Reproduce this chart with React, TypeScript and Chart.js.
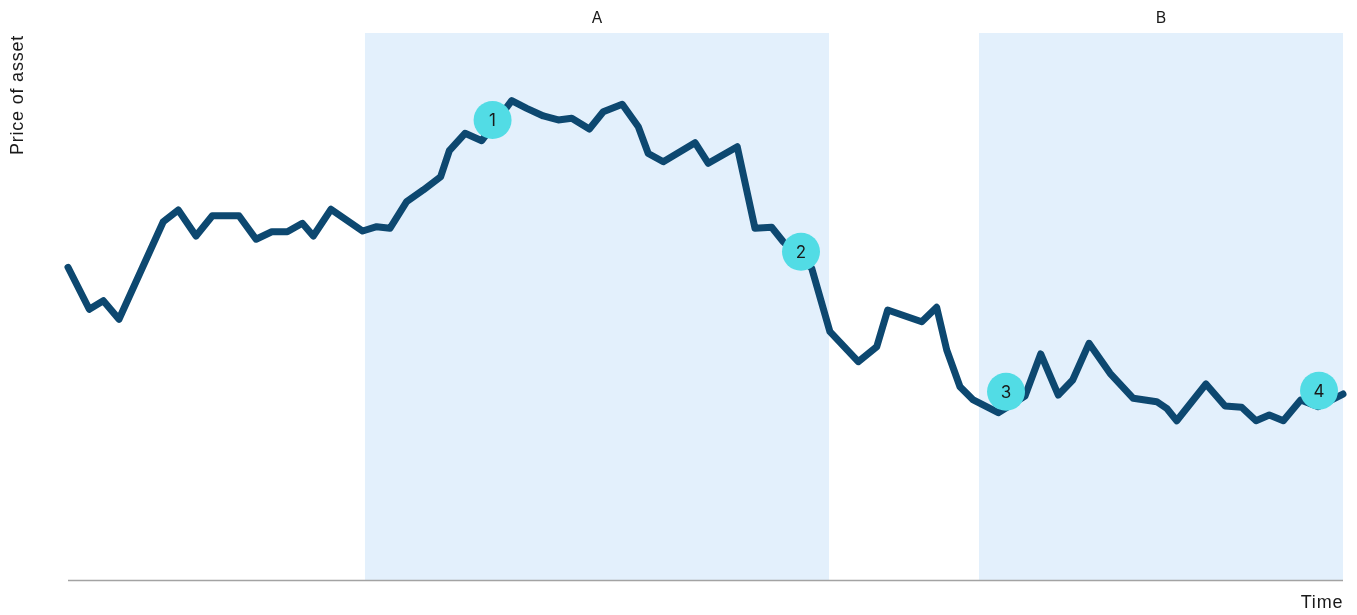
import React, { useEffect, useRef } from "react";
import { Chart, registerables } from "chart.js";

Chart.register(...registerables);

// Time (0–100) and price (0–100)
const timeValues = [
  0, 1.67, 2.77, 4.0, 7.47, 8.65, 10.04, 11.32, 13.41, 14.75, 15.98, 17.2, 18.38, 19.24, 20.63,
  23.11, 24.21, 25.25, 26.56, 27.87, 29.23, 29.91, 31.14, 32.45, 34.8, 35.98, 37.28, 38.45,
  39.51, 40.89, 41.98, 43.47, 44.73, 45.51, 46.69, 49.18, 50.22, 52.49, 53.88, 55.19, 56.1,
  58.33, 59.76, 61.98, 63.43, 64.29, 66.96, 68.13, 68.92, 69.96, 71.0, 72.96, 75.06, 76.29,
  77.67, 78.8, 80.08, 81.73, 83.55, 85.39, 86.17, 86.96, 89.25, 90.75, 92.05, 93.18, 94.22,
  95.32, 96.68, 98.06, 100,
];
const priceValues = [
  57.17, 49.49, 51.06, 47.66, 65.5, 67.64, 62.89, 66.6, 66.6, 62.29, 63.67, 63.67, 65.21,
  62.89, 67.77, 63.8, 64.59, 64.3, 69.16, 71.3, 73.73, 78.48, 81.66, 80.31, 87.62, 86.23,
  84.83, 84.1, 84.4, 82.45, 85.61, 86.97, 82.87, 77.97, 76.47, 79.95, 76.18, 79.21, 64.3,
  64.48, 61.85, 56.98, 45.39, 39.91, 42.65, 49.36, 47.22, 49.85, 42.05, 35.34, 32.91, 30.59,
  33.64, 41.32, 33.82, 36.56, 43.27, 37.79, 33.22, 32.6, 31.39, 29.12, 35.83, 31.81, 31.57,
  29.12, 30.16, 29.12, 32.91, 31.68, 34.0,
];

const markerLabels = ["1", "2", "3", "4"];
const markerTimes = [33.3, 57.49, 73.57, 98.12];
const markerPrices = [84.1, 60.02, 34.42, 34.61];

const regionLabels = ["A", "B"];
const regionStarts = [23.29, 71.45];
const regionEnds = [59.69, 100];

const xAxisTitle = "Time";
const yAxisTitle = "Price of asset";

const LINE_COLOR = "#0D4870";
const MARKER_COLOR = "#52DCE5";
const REGION_COLOR = "#E3F0FC";

const overlayPlugin = {
  id: "overlay",
  beforeDatasetsDraw(chart: any) {
    const { ctx, chartArea, scales } = chart;
    const x = scales.x;
    ctx.save();
    ctx.fillStyle = REGION_COLOR;
    regionLabels.forEach((lab, i) => {
      const x0 = x.getPixelForValue(regionStarts[i]);
      const x1 = x.getPixelForValue(regionEnds[i]);
      ctx.fillRect(x0, chartArea.top, x1 - x0, chartArea.bottom - chartArea.top);
      ctx.fillStyle = "#1a1a1a";
      ctx.font = "16px Inter, 'Liberation Sans', sans-serif";
      ctx.textAlign = "center";
      ctx.textBaseline = "middle";
      ctx.fillText(lab, (x0 + x1) / 2, 18);
      ctx.fillStyle = REGION_COLOR;
    });
    // x axis line
    ctx.strokeStyle = "#A3A3A3";
    ctx.lineWidth = 1.5;
    ctx.beginPath();
    ctx.moveTo(chartArea.left, chartArea.bottom + 0.5);
    ctx.lineTo(chartArea.right, chartArea.bottom + 0.5);
    ctx.stroke();
    // axis titles
    ctx.fillStyle = "#1a1a1a";
    ctx.font = "18px 'Liberation Sans', Arial, sans-serif";
    (ctx as any).letterSpacing = "0.8px";
    ctx.textAlign = "center";
    ctx.textBaseline = "middle";
    ctx.fillText(xAxisTitle, 1322, 603);
    ctx.translate(18, 95);
    ctx.rotate(-Math.PI / 2);
    ctx.fillText(yAxisTitle, 0, 0);
    ctx.restore();
  },
  afterDatasetsDraw(chart: any) {
    const { ctx, scales } = chart;
    ctx.save();
    ctx.fillStyle = "#1a1a1a";
    ctx.font = "17px Inter, 'Liberation Sans', sans-serif";
    ctx.textAlign = "center";
    ctx.textBaseline = "middle";
    markerLabels.forEach((lab, i) => {
      const px = scales.x.getPixelForValue(markerTimes[i]);
      const py = scales.y.getPixelForValue(markerPrices[i]);
      ctx.fillText(lab, px, py + 1);
    });
    ctx.restore();
  },
};

export default function App() {
  const ref = useRef<HTMLCanvasElement>(null);
  useEffect(() => {
    if (!ref.current) return;
    const chart = new Chart(ref.current, {
      type: "line",
      data: {
        datasets: [
          {
            type: "scatter",
            data: markerTimes.map((t, i) => ({ x: t, y: markerPrices[i] })),
            backgroundColor: MARKER_COLOR,
            borderWidth: 0,
            pointRadius: 19,
            pointHoverRadius: 19,
            clip: false,
            order: 0,
          } as any,
          {
            data: timeValues.map((t, i) => ({ x: t, y: priceValues[i] })),
            borderColor: LINE_COLOR,
            borderWidth: 7,
            borderCapStyle: "round",
            borderJoinStyle: "round",
            pointRadius: 0,
            fill: false,
            tension: 0,
            clip: false,
            order: 1,
          },
        ],
      },
      options: {
        animation: false,
        responsive: false,
        maintainAspectRatio: false,
        events: [],
        layout: { autoPadding: false, padding: { left: 68, right: 14, top: 33, bottom: 35 } },
        plugins: { legend: { display: false }, tooltip: { enabled: false } },
        scales: {
          x: { type: "linear", min: 0, max: 100, display: false },
          y: { type: "linear", min: 0, max: 100, display: false },
        },
      },
      plugins: [overlayPlugin],
    });
    return () => chart.destroy();
  }, []);
  return (
    <div style={{ position: "fixed", left: 0, top: 0, width: 1357, height: 615, background: "#fff" }}>
      <canvas ref={ref} width={1357} height={615} style={{ width: 1357, height: 615 }} />
    </div>
  );
}
